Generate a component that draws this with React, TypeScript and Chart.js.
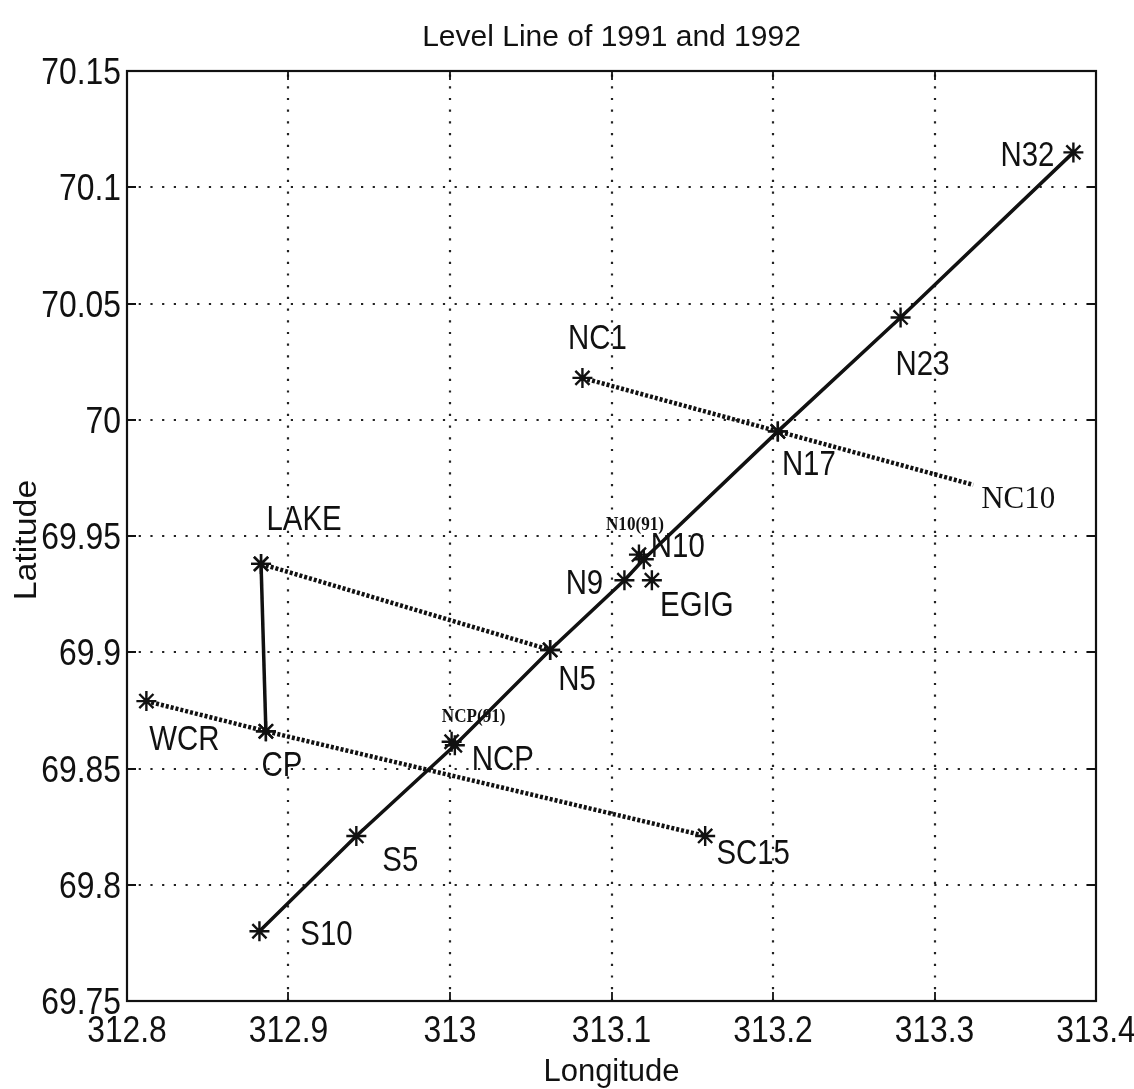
import React, { useEffect, useRef } from 'react';
import { Chart, registerables } from 'chart.js';

Chart.register(...registerables);

// ---------- data ----------
const TITLE = 'Level Line of 1991 and 1992';
const X_LABEL = 'Longitude';
const Y_LABEL = 'Latitude';

const X_TICKS = [312.8, 312.9, 313, 313.1, 313.2, 313.3, 313.4];
const Y_TICKS = [69.75, 69.8, 69.85, 69.9, 69.95, 70, 70.05, 70.1, 70.15];

const STATION_NAMES = ['S10', 'S5', 'NCP', 'N5', 'N9', 'N10', 'N17', 'N23', 'N32', 'NC1', 'NC10', 'LAKE', 'CP', 'WCR', 'SC15', 'EGIG', 'NCP(91)', 'N10(91)'];
const STATION_LON = [312.882, 312.942, 313.003, 313.062, 313.108, 313.12, 313.203, 313.279, 313.386, 313.082, 313.324, 312.883, 312.886, 312.812, 313.158, 313.125, 313.001, 313.117];
const STATION_LAT = [69.78, 69.821, 69.86, 69.901, 69.931, 69.94, 69.995, 70.044, 70.115, 70.018, 69.972, 69.938, 69.866, 69.879, 69.821, 69.931, 69.8615, 69.942];

const MAIN_LINE = ['S10', 'S5', 'NCP', 'N5', 'N9', 'N10', 'N17', 'N23', 'N32'];
const NC_LINE = ['NC1', 'N17', 'NC10'];
const LAKE_N5_LINE = ['LAKE', 'N5'];
const LAKE_CP_LINE = ['LAKE', 'CP'];
const WCR_LINE = ['WCR', 'CP', 'SC15'];
const EXTRA_STARS = ['EGIG', 'NCP(91)', 'N10(91)'];
const NO_MARKER = ['NC10'];

// ---------- styles ----------
const INK = '#111111';
const SANS = '"Liberation Sans", Arial, Helvetica, sans-serif';
const SERIF = '"Liberation Serif", "Times New Roman", serif';

// label placement (pixel offset of text centre from station marker) and style
const LABEL_STYLE: Record<string, { dx: number; dy: number; kind: 'sans' | 'serif' | 'small' }> = {
  S10: { dx: 67, dy: 1, kind: 'sans' },
  S5: { dx: 44, dy: 23, kind: 'sans' },
  NCP: { dx: 48, dy: 12, kind: 'sans' },
  N5: { dx: 27, dy: 28, kind: 'sans' },
  N9: { dx: -40, dy: 1, kind: 'sans' },
  N10: { dx: 34, dy: -15, kind: 'sans' },
  N17: { dx: 31, dy: 31, kind: 'sans' },
  N23: { dx: 22, dy: 45, kind: 'sans' },
  N32: { dx: -46, dy: 1, kind: 'sans' },
  NC1: { dx: 15, dy: -41, kind: 'sans' },
  NC10: { dx: 45, dy: 13, kind: 'serif' },
  LAKE: { dx: 43, dy: -46, kind: 'sans' },
  CP: { dx: 16, dy: 32, kind: 'sans' },
  WCR: { dx: 38, dy: 36, kind: 'sans' },
  SC15: { dx: 48, dy: 16, kind: 'sans' },
  EGIG: { dx: 45, dy: 23, kind: 'sans' },
  'NCP(91)': { dx: 22, dy: -26, kind: 'small' },
  'N10(91)': { dx: -4, dy: -31, kind: 'small' },
};

const pt = (name: string) => {
  const i = STATION_NAMES.indexOf(name);
  return { x: STATION_LON[i], y: STATION_LAT[i] };
};
const pts = (names: string[]) => names.map(pt);
const radii = (names: string[]) => names.map((n) => (NO_MARKER.includes(n) ? 0 : 10));

function drawText(
  ctx: CanvasRenderingContext2D,
  text: string,
  x: number,
  y: number,
  font: string,
  sx: number,
  align: CanvasTextAlign,
  capH: number,
) {
  ctx.save();
  ctx.translate(x, y + capH / 2);
  ctx.scale(sx, 1);
  ctx.font = font;
  ctx.textAlign = align;
  ctx.textBaseline = 'alphabetic';
  ctx.fillStyle = INK;
  ctx.fillText(text, 0, 0);
  ctx.restore();
}

const decorPlugin = {
  id: 'decor',
  beforeDatasetsDraw(chart: any) {
    const { ctx, chartArea: a, scales } = chart;
    const xs = scales.x;
    const ys = scales.y;
    ctx.save();
    ctx.strokeStyle = '#222';
    ctx.lineWidth = 2.2;
    ctx.setLineDash([2.2, 9.5]);
    X_TICKS.forEach((v) => {
      const px = Math.round(xs.getPixelForValue(v));
      if (px <= a.left + 1 || px >= a.right - 1) return;
      ctx.beginPath();
      ctx.moveTo(px, a.bottom);
      ctx.lineTo(px, a.top);
      ctx.stroke();
    });
    Y_TICKS.forEach((v) => {
      const py = Math.round(ys.getPixelForValue(v));
      if (py <= a.top + 1 || py >= a.bottom - 1) return;
      ctx.beginPath();
      ctx.moveTo(a.left, py);
      ctx.lineTo(a.right, py);
      ctx.stroke();
    });
    ctx.restore();
  },
  afterDatasetsDraw(chart: any) {
    const { ctx, chartArea: a, scales } = chart;
    const xs = scales.x;
    const ys = scales.y;
    ctx.save();
    // frame
    ctx.strokeStyle = INK;
    ctx.lineWidth = 2.2;
    ctx.setLineDash([]);
    ctx.strokeRect(a.left, a.top, a.right - a.left, a.bottom - a.top);
    // inward ticks
    const tl = 9;
    ctx.lineWidth = 1.8;
    X_TICKS.forEach((v) => {
      const px = Math.round(xs.getPixelForValue(v));
      ctx.beginPath();
      ctx.moveTo(px, a.bottom);
      ctx.lineTo(px, a.bottom - tl);
      ctx.moveTo(px, a.top);
      ctx.lineTo(px, a.top + tl);
      ctx.stroke();
    });
    Y_TICKS.forEach((v) => {
      const py = Math.round(ys.getPixelForValue(v));
      ctx.beginPath();
      ctx.moveTo(a.left, py);
      ctx.lineTo(a.left + tl, py);
      ctx.moveTo(a.right, py);
      ctx.lineTo(a.right - tl, py);
      ctx.stroke();
    });
    // tick labels
    const tf = 37;
    const tsx = 0.86;
    Y_TICKS.forEach((v) => {
      drawText(ctx, String(v), a.left - 6, ys.getPixelForValue(v), `${tf}px ${SANS}`, tsx, 'right', tf * 0.716);
    });
    X_TICKS.forEach((v) => {
      drawText(ctx, String(v), xs.getPixelForValue(v), a.bottom + 28, `${tf}px ${SANS}`, tsx, 'center', tf * 0.716);
    });
    // titles
    const cx = (a.left + a.right) / 2;
    drawText(ctx, TITLE, cx, 35, `30px ${SANS}`, 1.0, 'center', 30 * 0.716);
    drawText(ctx, X_LABEL, cx, 1070, `31px ${SANS}`, 1.0, 'center', 31 * 0.716);
    ctx.save();
    ctx.translate(25, (a.top + a.bottom) / 2 + 4);
    ctx.rotate(-Math.PI / 2);
    drawText(ctx, Y_LABEL, 0, 0, `32px ${SANS}`, 1.06, 'center', 32 * 0.716);
    ctx.restore();
    // station labels
    STATION_NAMES.forEach((name, i) => {
      const st = LABEL_STYLE[name];
      if (!st) return;
      const px = xs.getPixelForValue(STATION_LON[i]) + st.dx;
      const py = ys.getPixelForValue(STATION_LAT[i]) + st.dy;
      if (st.kind === 'sans') {
        drawText(ctx, name, px, py, `35px ${SANS}`, 0.84, 'center', 35 * 0.716);
      } else if (st.kind === 'serif') {
        drawText(ctx, name, px, py, `31px ${SERIF}`, 1.0, 'center', 31 * 0.662);
      } else {
        drawText(ctx, name, px, py, `bold 18px ${SERIF}`, 0.95, 'center', 18 * 0.662);
      }
    });
    ctx.restore();
  },
};

const starDs = {
  pointStyle: 'star',
  pointBorderColor: INK,
  pointBackgroundColor: INK,
  pointBorderWidth: 2.4,
  pointHoverRadius: 10,
};

export default function App() {
  const ref = useRef<HTMLCanvasElement | null>(null);
  useEffect(() => {
    if (!ref.current) return;
    const dotted = [3, 2];
    const chart = new Chart(ref.current, {
      type: 'scatter',
      data: {
        datasets: [
          { ...starDs, label: 'main', data: pts(MAIN_LINE), showLine: true, borderColor: INK, borderWidth: 3.5, pointRadius: radii(MAIN_LINE) },
          { ...starDs, label: 'nc', data: pts(NC_LINE), showLine: true, borderColor: INK, borderWidth: 4.5, borderDash: dotted, pointRadius: radii(NC_LINE) },
          { ...starDs, label: 'lake-n5', data: pts(LAKE_N5_LINE), showLine: true, borderColor: INK, borderWidth: 4.5, borderDash: dotted, pointRadius: radii(LAKE_N5_LINE) },
          { ...starDs, label: 'lake-cp', data: pts(LAKE_CP_LINE), showLine: true, borderColor: INK, borderWidth: 3.5, pointRadius: radii(LAKE_CP_LINE) },
          { ...starDs, label: 'wcr', data: pts(WCR_LINE), showLine: true, borderColor: INK, borderWidth: 4.5, borderDash: dotted, pointRadius: radii(WCR_LINE) },
          { ...starDs, label: 'extra', data: pts(EXTRA_STARS), showLine: false, pointRadius: radii(EXTRA_STARS) },
        ] as any,
      },
      options: {
        animation: false,
        responsive: false,
        devicePixelRatio: 1,
        layout: { padding: { left: 0, top: 71, right: 38, bottom: 0 } },
        plugins: { legend: { display: false }, tooltip: { enabled: false }, title: { display: false } },
        scales: {
          x: {
            type: 'linear',
            min: 312.8,
            max: 313.4,
            ticks: { display: false, stepSize: 0.1 },
            grid: { display: false },
            border: { display: false },
            afterFit: (s: any) => { s.height = 88; },
          },
          y: {
            type: 'linear',
            min: 69.75,
            max: 70.15,
            ticks: { display: false, stepSize: 0.05 },
            grid: { display: false },
            border: { display: false },
            afterFit: (s: any) => { s.width = 127; },
          },
        },
      } as any,
      plugins: [decorPlugin],
    });
    return () => chart.destroy();
  }, []);
  return (
    <div style={{ position: 'absolute', left: 0, top: 0, width: 1134, height: 1089, background: '#fff' }}>
      <canvas ref={ref} width={1134} height={1089} style={{ display: 'block' }} />
    </div>
  );
}
